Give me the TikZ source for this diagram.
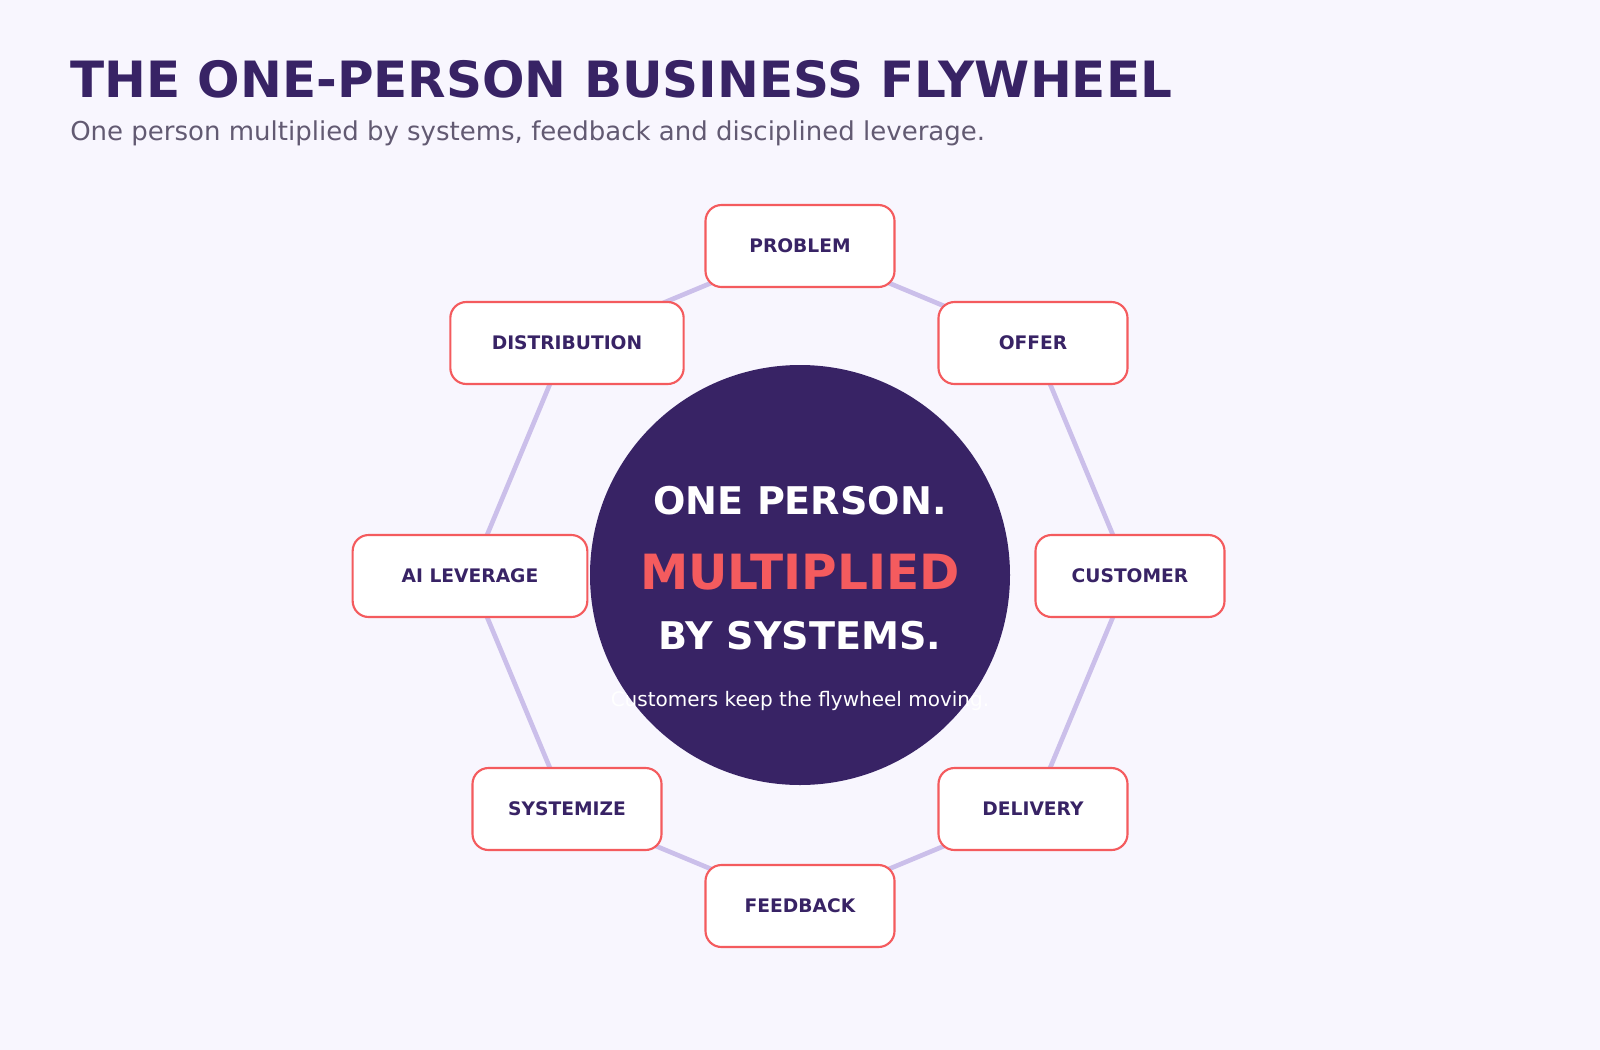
\documentclass[tikz,border=0pt]{standalone}
\usepackage{fontspec}
\setmainfont{DejaVu Sans}
\definecolor{bg}{HTML}{F8F6FE}
\definecolor{ink}{HTML}{382365}
\definecolor{coral}{HTML}{F45B5E}
\definecolor{lav}{HTML}{CBBFEA}
\definecolor{sub}{HTML}{625A72}
\begin{document}
\begin{tikzpicture}[x=0.75pt,y=-0.75pt,
  stepbox/.style={draw=coral,line width=1.6pt,fill=white,rounded corners=12pt,minimum width=141.75pt,minimum height=61.5pt,font=\bfseries\fontsize{14}{16}\selectfont,text=ink},
  link/.style={draw=lav,line width=3.5pt}]
\fill[bg] (0,0) rectangle (1600,1050);
\useasboundingbox (0,0) rectangle (1600,1050);
\node[anchor=base west,font=\bfseries\fontsize{37.5}{44}\selectfont,text=ink,inner xsep=0] (title) at (70,97) {THE ONE-PERSON BUSINESS FLYWHEEL};
\node[anchor=base west,font=\fontsize{19.5}{23}\selectfont,text=sub,inner xsep=0] (subtitle) at (70,140) {One person multiplied by systems, feedback and disciplined leverage.};
\coordinate (c) at (800,575);
\coordinate (cp) at (800,246);
\coordinate (co) at (1033,343);
\coordinate (ccu) at (1130,576);
\coordinate (cd) at (1033,809);
\coordinate (cf) at (800,906);
\coordinate (cs) at (567,809);
\coordinate (cai) at (470,576);
\coordinate (cdi) at (567,343);
\path[link] (cp)--(co)--(ccu)--(cd)--(cf)--(cs)--(cai)--(cdi)--cycle;
\node[circle,fill=ink,minimum size=315pt,inner sep=0] (hub) at (c) {};
\node[stepbox] (p) at (cp) {PROBLEM};
\node[stepbox] (o) at (co) {OFFER};
\node[stepbox] (cu) at (ccu) {CUSTOMER};
\node[stepbox] (d) at (cd) {DELIVERY};
\node[stepbox] (f) at (cf) {FEEDBACK};
\node[stepbox] (s) at (cs) {SYSTEMIZE};
\node[stepbox,minimum width=176pt] (ai) at (cai) {AI LEVERAGE};
\node[stepbox,minimum width=175pt] (di) at (cdi) {DISTRIBUTION};
\node[font=\bfseries\fontsize{28.6}{32}\selectfont,text=white] (l1) at (800,501) {ONE PERSON.};
\node[font=\bfseries\fontsize{36.4}{42}\selectfont,text=coral] (l2) at (800,572) {MULTIPLIED};
\node[font=\bfseries\fontsize{28.6}{32}\selectfont,text=white] (l3) at (800,636) {BY SYSTEMS.};
\node[font=\fontsize{15}{18}\selectfont,text=white] (l4) at (800,701) {Customers keep the flywheel moving.};
\end{tikzpicture}
\end{document}
